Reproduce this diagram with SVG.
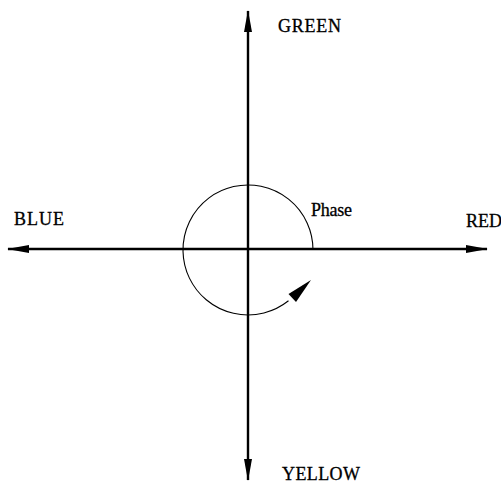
<svg xmlns="http://www.w3.org/2000/svg" width="501" height="485" viewBox="0 0 501 485">
<defs>
<style>
.lbl{font-family:"Liberation Serif","Times New Roman",serif;font-size:18px;fill:#000;stroke:#000;stroke-width:0.3}
.axis{stroke:#000;stroke-width:2.4;fill:none}
.phase{stroke:#000;stroke-width:1.1;fill:none}
</style>
<marker id="ah" viewBox="0 0 22 8" refX="21" refY="4" markerWidth="22" markerHeight="8" markerUnits="userSpaceOnUse" orient="auto-start-reverse">
<path d="M0,0 L22,4 L0,8 Z" fill="#000"/>
</marker>
</defs>
<rect width="501" height="485" fill="#fff"/>
<g id="connectors">
<line id="axis-vertical" class="axis" x1="248" y1="11" x2="248" y2="480" marker-start="url(#ah)" marker-end="url(#ah)"/>
<line id="axis-horizontal" class="axis" x1="8" y1="249" x2="487" y2="249" marker-start="url(#ah)" marker-end="url(#ah)"/>
<g id="phase-arrow">
<path class="phase" d="M313,250 A65,65 0 1 0 288.5,300.8"/>
<polygon points="311,280 296,302 288.5,294" fill="#000"/>
</g>
</g>
<g id="node-green"><text class="lbl" x="278" y="32" textLength="63" lengthAdjust="spacing">GREEN</text></g>
<g id="node-blue"><text class="lbl" x="14" y="225" textLength="50" lengthAdjust="spacing">BLUE</text></g>
<g id="node-red"><text class="lbl" x="466" y="227" textLength="36" lengthAdjust="spacing">RED</text></g>
<g id="node-yellow"><text class="lbl" x="282" y="480" textLength="78" lengthAdjust="spacing">YELLOW</text></g>
<g id="node-phase"><text class="lbl" x="311" y="216" textLength="41" lengthAdjust="spacing">Phase</text></g>
</svg>
